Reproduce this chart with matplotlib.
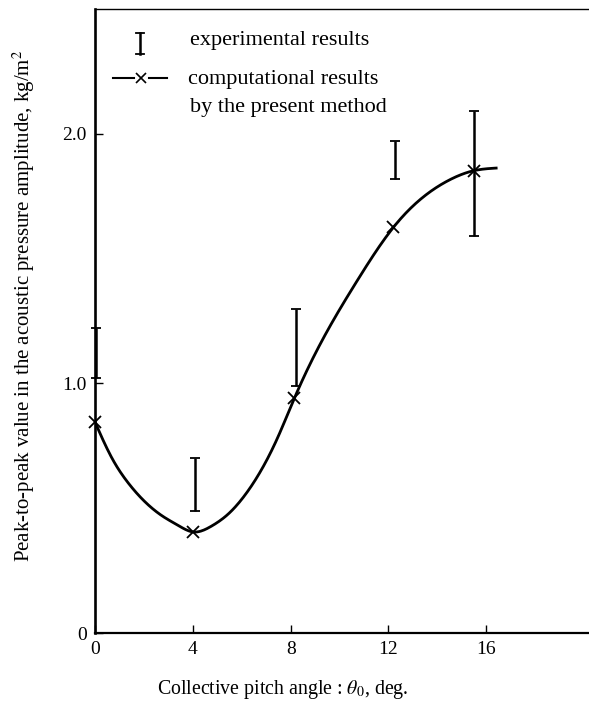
import numpy as np
import matplotlib
matplotlib.use("Agg")
import matplotlib.pyplot as plt
from matplotlib.lines import Line2D

plt.rcParams["font.family"] = ["Liberation Serif", "DejaVu Serif"]
plt.rcParams["mathtext.fontset"] = "stix"

# experimental results (error bars)
exp_theta = [0.04, 4.08, 8.2, 12.25, 15.5]
exp_low = [1.02, 0.49, 0.99, 1.82, 1.59]
exp_high = [1.22, 0.70, 1.30, 1.97, 2.09]

# computational results (markers)
calc_theta = [0.0, 4.0, 8.15, 12.2, 15.48]
calc_value = [0.845, 0.405, 0.94, 1.625, 1.852]

# computed curve
curve_theta = [0.0, 0.68, 1.36, 2.04, 2.72, 3.4, 4.0, 4.76, 5.44, 6.12,
               6.8, 7.48, 8.15, 9.32, 10.68, 12.2, 13.4, 14.49, 15.48, 16.46]
curve_value = [0.845, 0.703, 0.601, 0.526, 0.471, 0.431, 0.405, 0.428, 0.476, 0.551,
               0.653, 0.785, 0.94, 1.178, 1.405, 1.625, 1.745, 1.815, 1.852, 1.863]

x_ticks = [0, 4, 8, 12, 16]
y_ticks = [0, 1.0, 2.0]
y_ticklabels = ["0", "1.0", "2.0"]


def natural_spline(x, y, xs):
    x = np.asarray(x, float)
    y = np.asarray(y, float)
    n = len(x)
    h = np.diff(x)
    A = np.zeros((n, n))
    b = np.zeros(n)
    A[0, 0] = A[-1, -1] = 1
    for i in range(1, n - 1):
        A[i, i - 1] = h[i - 1]
        A[i, i] = 2 * (h[i - 1] + h[i])
        A[i, i + 1] = h[i]
        b[i] = 3 * ((y[i + 1] - y[i]) / h[i] - (y[i] - y[i - 1]) / h[i - 1])
    c = np.linalg.solve(A, b)
    bc = (y[1:] - y[:-1]) / h - h * (2 * c[:-1] + c[1:]) / 3
    d = (c[1:] - c[:-1]) / (3 * h)
    idx = np.clip(np.searchsorted(x, xs) - 1, 0, n - 2)
    dx = xs - x[idx]
    return y[idx] + bc[idx] * dx + c[idx] * dx ** 2 + d[idx] * dx ** 3


fig = plt.figure(figsize=(5.89, 7.02), dpi=100)
ax = fig.add_axes([95 / 589, 1 - 633 / 702, 494 / 589, 624 / 702])

xs = np.linspace(curve_theta[0], curve_theta[-1], 400)
ax.plot(xs, natural_spline(curve_theta, curve_value, xs), color="black", lw=2.0,
        solid_capstyle="butt", zorder=2)
ax.plot(calc_theta, calc_value, ls="none", marker="x", ms=9, mew=1.3,
        color="black", zorder=3, clip_on=False)

exp_mid = [(lo + hi) / 2 for lo, hi in zip(exp_low, exp_high)]
exp_err = [(hi - lo) / 2 for lo, hi in zip(exp_low, exp_high)]
ax.errorbar(exp_theta, exp_mid, yerr=exp_err, fmt="none", ecolor="black",
            elinewidth=1.8, capsize=3.5, capthick=1.3, zorder=2, clip_on=False)

ax.set_xlim(0, 20.2)
ax.set_ylim(0, 2.5)
ax.set_xticks(x_ticks)
ax.set_yticks(y_ticks)
ax.set_yticklabels(y_ticklabels)
ax.tick_params(direction="in", length=6, width=1.0, labelsize=14, pad=6)

ax.spines["right"].set_visible(False)
ax.spines["left"].set_linewidth(1.9)
ax.spines["bottom"].set_linewidth(1.6)
ax.spines["top"].set_linewidth(1.0)

ax.set_xlabel(r"Collective pitch angle : $\theta_0$, deg.", fontsize=14.3)
ax.xaxis.set_label_coords(188 / 494, -45 / 624)
ax.set_ylabel(r"Peak-to-peak value in the acoustic pressure amplitude, kg/m$^2$",
              fontsize=15)
ax.yaxis.set_label_coords(-58 / 494, 327 / 624)

# legend drawn by hand in axes fraction
tr = ax.transAxes
ax.add_line(Line2D([0.091, 0.091], [0.928, 0.962], color="black", lw=1.8, transform=tr))
ax.add_line(Line2D([0.082, 0.100], [0.928, 0.928], color="black", lw=1.3, transform=tr))
ax.add_line(Line2D([0.082, 0.100], [0.962, 0.962], color="black", lw=1.3, transform=tr))
ax.add_line(Line2D([0.037, 0.078], [0.889, 0.889], color="black", lw=1.5, transform=tr))
ax.add_line(Line2D([0.11, 0.146], [0.889, 0.889], color="black", lw=1.5, transform=tr))
ax.add_line(Line2D([0.094], [0.889], marker="x", ms=7, mew=1.2, color="black", transform=tr))
ax.text(0.192, 0.942, "experimental results", transform=tr, fontsize=16, va="baseline")
ax.text(0.188, 0.880, "computational results", transform=tr, fontsize=16, va="baseline")
ax.text(0.192, 0.835, "by the present method", transform=tr, fontsize=16, va="baseline")

fig.savefig("out.png", dpi=100)
